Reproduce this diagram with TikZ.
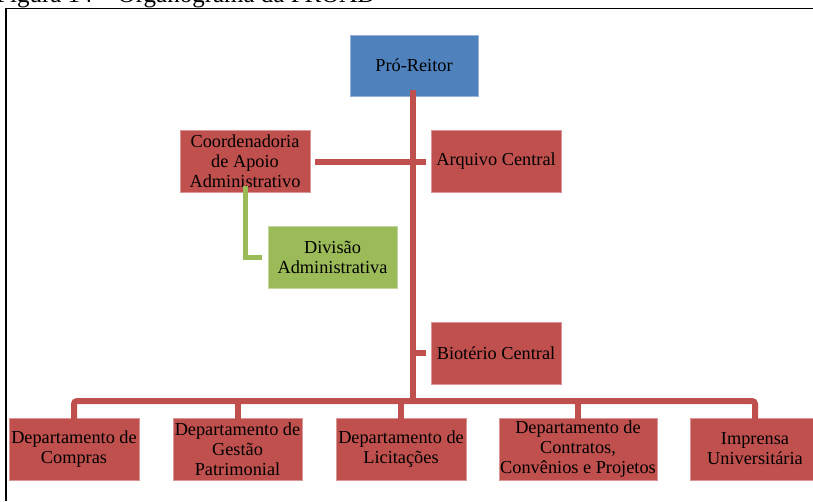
\documentclass[tikz,border=0pt]{standalone}
\usepackage{fontspec}
\setmainfont{Liberation Serif}
\definecolor{accred}{HTML}{C0504D}
\definecolor{accblue}{HTML}{4F81BD}
\definecolor{accgreen}{HTML}{9BBB59}
\begin{document}
\begin{tikzpicture}[x=1pt,y=-1pt,
  orgbox/.style={rectangle, fill=accred, draw=accred!60!white, line width=0.6pt,
    minimum width=130pt, minimum height=62pt, inner sep=1pt, align=center,
    font=\fontsize{18.3}{20}\selectfont, text=black},
  bluebox/.style={orgbox, fill=accblue, draw=accblue!60!white, minimum width=128pt, minimum height=61pt},
  greenbox/.style={orgbox, fill=accgreen, draw=accgreen!60!white},
  redline/.style={draw=accred, line width=6pt},
  greenline/.style={draw=accgreen, line width=5pt},
  frameline/.style={draw=black, line width=1.5pt}]
\useasboundingbox (0,0) rectangle (813,501);
\clip (0,0) rectangle (813,501);
% caption (cut at top)
\node[anchor=base west, inner sep=0pt, font=\fontsize{25}{28}\selectfont] (cap) at (-4,2.5) {Figura 14 -- Organograma da PROAD};
% frame
\draw[frameline] (6,501) -- (6,8.5) -- (815,8.5);
% nodes
\node[bluebox] (pro) at (414,65.5) {Pró-Reitor};
\node[orgbox] (coord) at (245,161) {Coordenadoria\\de Apoio\\Administrativo};
\node[orgbox] (arq) at (496,161) {Arquivo Central};
\node[greenbox, minimum width=129pt] (div) at (332.5,257) {Divisão\\Administrativa};
\node[orgbox] (bio) at (496,353) {Biotério Central};
\node[orgbox] (d1) at (74,449) {Departamento de\\Compras};
\node[orgbox, minimum width=129pt] (d2) at (237.5,449) {Departamento de\\Gestão\\Patrimonial};
\node[orgbox] (d3) at (401,449) {Departamento de\\Licitações};
\node[orgbox, minimum width=158pt] (d4) at (578,449) {Departamento de\\Contratos,\\Convênios e Projetos};
\node[orgbox] (d5) at (755,449) {Imprensa\\Universitária};
% connectors
\coordinate (bus) at (413,401);
\coordinate (hl) at (0,162);
\draw[redline] ([xshift=-1pt,yshift=6pt]pro.south) -- (bus);
\draw[redline] ([xshift=5pt]coord.east |- hl) -- ([xshift=-5pt]arq.west |- hl);
\draw[redline] (bus |- bio.west) -- ([xshift=-5pt]bio.west);
\draw[redline, rounded corners=3pt] ([yshift=-6pt]d1.north) -- (d1.north |- bus) -- (d5.north |- bus) -- ([yshift=-6pt]d5.north);
\draw[redline] ([yshift=-6pt]d2.north) -- (d2.north |- bus);
\draw[redline] ([yshift=-6pt]d3.north) -- (d3.north |- bus);
\draw[redline] ([yshift=-6pt]d4.north) -- (d4.north |- bus);
\draw[greenline] ([yshift=6pt]coord.south) -- (coord.south |- div.west) -- ([xshift=-6pt]div.west);
\end{tikzpicture}
\end{document}
